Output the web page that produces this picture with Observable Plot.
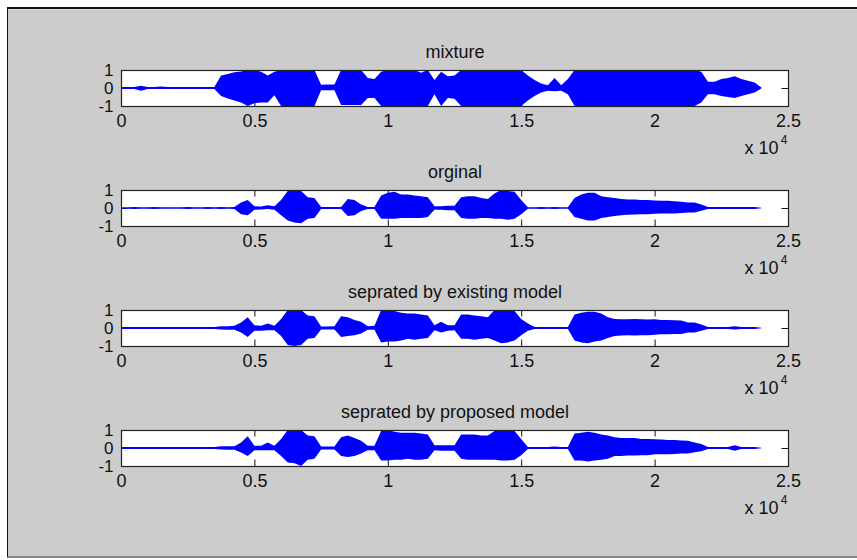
<!DOCTYPE html>
<html><head><meta charset="utf-8">
<script src="https://cdn.jsdelivr.net/npm/d3@7"></script>
<script src="https://cdn.jsdelivr.net/npm/@observablehq/plot@0.6"></script>
<style>
html,body{margin:0;padding:0;background:#fff;width:857px;height:560px;overflow:hidden;font-family:"Liberation Sans",Arial,sans-serif}
#fig{position:absolute;left:7px;top:7px;width:850px;height:551px;background:#cccccc;border-top:2px solid #111;border-left:1.5px solid #111;border-bottom:2px solid #8a8a8a;box-sizing:border-box}
#fig::before{content:"";position:absolute;left:0;right:0;top:0;height:1px;background:#e4e4e4}
#plots{position:absolute;left:0;top:0;width:857px;height:560px}
.sub{position:absolute;left:0}
</style></head>
<body>
<div id="fig"></div>
<div id="plots"></div>
<script>
// sample index positions (samples)
const samplePos = [
  0,250,500,750, 1000,1250,1500,1750, 2000,2250,2500,2750, 3000,3250,3500,3750,
  4000,4250,4500,4750, 5000,5250,5500,5750, 6000,6250,6500,6750, 7000,7250,7500,7750,
  8000,8250,8500,8750, 9000,9250,9500,9750, 10000,10250,10500,10750, 11000,11250,11500,11750,
  12000,12250,12500,12750, 13000,13250,13500,13750, 14000,14250,14500,14750, 15000,15250,15500,15750,
  16000,16250,16500,16750, 17000,17250,17500,17750, 18000,18250,18500,18750, 19000,19250,19500,19750,
  20000,20250,20500,20750, 21000,21250,21500,21750, 22000,22250,22500,22750, 23000,23250,23500,23750,
  24000
];

const titles = ["mixture", "orginal", "seprated by existing model", "seprated by proposed model"];

// upper / lower envelope of each waveform
const mixtureHi = [
  .05,.05,.05,.12, .05,.05,.08,.05, .05,.05,.05,.05, .05,.05,.06,.7,
  .78,.88,.92,1, 1,.9,.7,.9, 1,1,1,1, 1,1,.18,.2,
  .2,1,1,1, 1,.55,.5,.9, 1,1,1,1, 1,.85,1,.45,
  .9,.65,.7,1, 1,1,1,1, 1,1,1,1, 1,.7,.45,.25,
  .15,.55,.15,.5, 1,1,1,1, 1,1,1,1, 1,1,1,1,
  1,1,1,1, 1,1,1,.9, .35,.35,.5,.55, .65,.5,.4,.3,
  .03
];
const mixtureLo = [
  -.05,-.05,-.05,-.15, -.05,-.05,-.06,-.05, -.05,-.05,-.05,-.05, -.05,-.05,-.06,-.45,
  -.58,-.7,-.8,-1, -.85,-.8,-.8,-.4, -1,-1,-1,-1, -1,-1,-.12,-.12,
  -.12,-.95,-.95,-.95, -.95,-.55,-.55,-1, -1,-1,-1,-1, -1,-1,-1,-.35,
  -1,-.55,-.6,-1, -1,-1,-1,-1, -1,-1,-1,-1, -1,-.7,-.45,-.25,
  -.15,-.18,-.15,-.35, -1,-1,-1,-1, -1,-1,-1,-1, -1,-1,-1,-1,
  -1,-1,-1,-1, -1,-1,-1,-.8, -.35,-.35,-.45,-.5, -.55,-.45,-.35,-.25,
  -.03
];

const originalHi = [
  .04,.04,.05,.04, .04,.05,.04,.04, .04,.04,.05,.04, .04,.05,.04,.05,
  .04,.06,.3,.45, .1,.08,.15,.1, .45,.95,1,.95, .6,.55,.05,.05,
  .05,.05,.5,.45, .2,.05,.05,.7, .85,.9,.75,.75, .7,.65,.6,.1,
  .1,.12,.12,.6, .65,.65,.55,.5, .8,1,.95,.9, .45,.04,.04,.05,
  .04,.05,.04,.04, .55,.75,.85,.85, .65,.6,.55,.5, .47,.47,.45,.45,
  .42,.4,.4,.38, .35,.3,.3,.2, .05,.05,.06,.05, .05,.05,.05,.05,
  .02
];
const originalLo = [
  -.04,-.04,-.05,-.04, -.04,-.05,-.04,-.04, -.04,-.04,-.05,-.04, -.04,-.05,-.04,-.05,
  -.04,-.06,-.35,-.4, -.1,-.08,-.06,-.1, -.4,-.7,-.8,-.85, -.6,-.55,-.05,-.05,
  -.05,-.05,-.45,-.4, -.16,-.05,-.05,-.6, -.6,-.6,-.55,-.55, -.55,-.55,-.5,-.1,
  -.1,-.12,-.12,-.55, -.6,-.6,-.55,-.55, -.6,-.6,-.65,-.6, -.35,-.04,-.04,-.05,
  -.04,-.05,-.04,-.04, -.5,-.6,-.7,-.7, -.55,-.5,-.45,-.4, -.37,-.36,-.35,-.35,
  -.32,-.3,-.3,-.3, -.28,-.25,-.25,-.15, -.05,-.05,-.06,-.05, -.05,-.05,-.05,-.05,
  -.02
];

const existingHi = [
  .05,.05,.05,.05, .05,.05,.05,.05, .05,.05,.05,.05, .05,.05,.05,.1,
  .1,.12,.3,.6, .15,.12,.25,.12, .5,1,1,1, .7,.65,.08,.08,
  .1,.65,.6,.45, .35,.1,.12,1, 1,.95,.85,.8, .8,.75,.7,.15,
  .35,.15,.15,.75, .75,.7,.65,.6, 1,1,1,.95, .5,.25,.06,.05,
  .05,.05,.05,.05, .75,.85,.9,.9, .8,.6,.5,.48, .48,.5,.48,.47,
  .48,.45,.45,.43, .42,.3,.3,.2, .05,.05,.05,.05, .1,.05,.05,.05,
  .02
];
const existingLo = [
  -.05,-.05,-.05,-.05, -.05,-.05,-.05,-.05, -.05,-.05,-.05,-.05, -.05,-.05,-.05,-.08,
  -.1,-.1,-.25,-.5, -.15,-.15,-.12,-.12, -.45,-.95,-1,-.95, -.6,-.55,-.08,-.08,
  -.08,-.5,-.45,-.4, -.3,-.1,-.1,-.8, -.75,-.75,-.7,-.6, -.65,-.6,-.55,-.12,
  -.25,-.15,-.12,-.6, -.6,-.65,-.6,-.55, -.7,-.85,-.8,-.7, -.4,-.15,-.06,-.05,
  -.05,-.05,-.05,-.05, -.7,-.8,-.85,-.75, -.7,-.55,-.45,-.42, -.4,-.42,-.4,-.4,
  -.38,-.35,-.35,-.33, -.33,-.25,-.25,-.15, -.05,-.05,-.05,-.05, -.08,-.05,-.05,-.05,
  -.02
];

const proposedHi = [
  .05,.05,.05,.05, .05,.05,.05,.05, .05,.05,.05,.05, .05,.05,.05,.1,
  .1,.1,.3,.65, .12,.12,.3,.12, .5,1,1,1, .7,.65,.08,.08,
  .08,.6,.7,.55, .4,.12,.12,.95, 1,.9,.85,.85, .85,.8,.75,.15,
  .15,.15,.15,.75, .75,.75,.7,.7, .95,1,1,.95, .5,.05,.05,.05,
  .05,.08,.05,.05, .8,.85,.9,.85, .75,.7,.6,.55, .55,.55,.5,.5,
  .48,.47,.45,.45, .42,.4,.3,.22, .05,.05,.05,.05, .15,.05,.05,.05,
  .02
];
const proposedLo = [
  -.05,-.05,-.05,-.05, -.05,-.05,-.05,-.05, -.05,-.05,-.05,-.05, -.05,-.05,-.05,-.08,
  -.1,-.1,-.25,-.45, -.12,-.12,-.12,-.12, -.45,-.8,-.85,-1, -.65,-.6,-.08,-.08,
  -.08,-.45,-.5,-.45, -.3,-.12,-.12,-.7, -.7,-.65,-.65,-.6, -.65,-.65,-.6,-.12,
  -.15,-.15,-.15,-.6, -.65,-.65,-.65,-.65, -.65,-.7,-.7,-.65, -.4,-.05,-.05,-.05,
  -.05,-.06,-.05,-.05, -.7,-.7,-.75,-.7, -.65,-.6,-.45,-.45, -.42,-.42,-.4,-.4,
  -.35,-.35,-.35,-.33, -.3,-.3,-.23,-.18, -.05,-.05,-.05,-.05, -.15,-.05,-.05,-.05,
  -.02
];

const xTickValues = [0, 5000, 10000, 15000, 20000, 25000];
const xTickLabels = ["0", "0.5", "1", "1.5", "2", "2.5"];
const yTickValues = [-1, 0, 1];
const yTickLabels = ["-1", "0", "1"];
const exponentBase = "x 10";
const exponentPower = "4";

const series = [
  [mixtureHi, mixtureLo],
  [originalHi, originalLo],
  [existingHi, existingLo],
  [proposedHi, proposedLo]
];

const xLabel = new Map(xTickValues.map((v, i) => [v, xTickLabels[i]]));
const yLabel = new Map(yTickValues.map((v, i) => [v, yTickLabels[i]]));

const W = 857, H = 130, mT = 40, mB = 54, mL = 121, mR = 69;
const boxW = W - mL - mR, boxH = H - mT - mB, tick = 6.5;
const ink = "#111";

function panel(title, hi, lo) {
  const rows = samplePos.map((s, i) => ({s, hi: hi[i], lo: lo[i]}));
  return Plot.plot({
    width: W, height: H, marginTop: mT, marginBottom: mB, marginLeft: mL, marginRight: mR,
    style: {background: "transparent", overflow: "visible", fontFamily: "'Liberation Sans', Arial, sans-serif", color: ink},
    x: {domain: [0, 25000]},
    y: {domain: [-1, 1]},
    marks: [
      Plot.frame({fill: "white", stroke: null}),
      Plot.gridX(xTickValues, {stroke: ink, strokeOpacity: 1, insetTop: boxH - tick}),
      Plot.gridX(xTickValues, {stroke: ink, strokeOpacity: 1, insetBottom: boxH - tick}),
      Plot.gridY(yTickValues, {stroke: ink, strokeOpacity: 1, insetRight: boxW - tick}),
      Plot.gridY(yTickValues, {stroke: ink, strokeOpacity: 1, insetLeft: boxW - tick}),
      Plot.areaY(rows, {x: "s", y1: "lo", y2: "hi", fill: "#0000ff", clip: true}),
      Plot.frame({stroke: "#222", strokeWidth: 1.2}),
      Plot.axisX({ticks: xTickValues, tickSize: 0, tickPadding: 8, tickFormat: d => xLabel.get(d), fontSize: 18, label: null}),
      Plot.axisY({ticks: yTickValues, tickSize: 0, tickPadding: 8, tickFormat: d => yLabel.get(d), fontSize: 17, label: null}),
      Plot.text([title], {text: d => d, frameAnchor: "top", dy: -25, fontSize: 18}),
      Plot.text([exponentBase], {text: d => d, frameAnchor: "bottom-right", dx: -10, dy: 47, textAnchor: "end", fontSize: 18}),
      Plot.text([exponentPower], {text: d => d, frameAnchor: "bottom-right", dx: -1, dy: 37, textAnchor: "end", fontSize: 12})
    ]
  });
}

const host = document.getElementById("plots");
titles.forEach((t, k) => {
  const svg = panel(t, series[k][0], series[k][1]);
  const wrap = document.createElement("div");
  wrap.className = "sub";
  wrap.style.top = (30 + 120 * k) + "px";
  wrap.appendChild(svg);
  host.appendChild(wrap);
});
</script>
</body></html>
